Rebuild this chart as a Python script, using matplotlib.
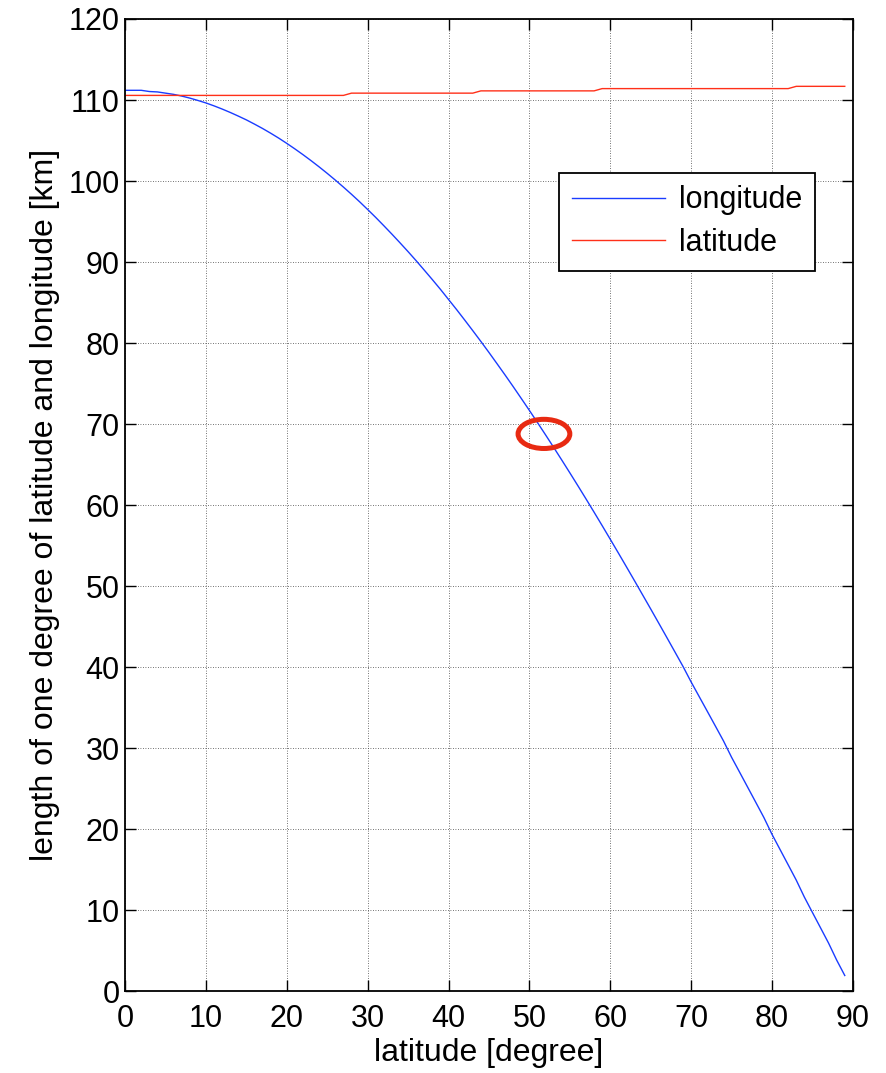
import matplotlib
matplotlib.use("Agg")
import matplotlib.pyplot as plt
from matplotlib.patches import Ellipse

# latitude in degrees (0..89)
lat_deg = list(range(0, 90))

# length of one degree of longitude [km]
lon_len = [111.20, 111.20, 111.20, 111.05, 111.00, 110.85, 110.70, 110.49, 110.24, 109.95,
           109.64, 109.28, 108.89, 108.47, 108.02, 107.55, 107.03, 106.49, 105.91, 105.30,
           104.65, 103.97, 103.26, 102.52, 101.75, 100.95, 100.12, 99.26, 98.37, 97.45,
           96.49, 95.51, 94.49, 93.45, 92.38, 91.29, 90.17, 89.01, 87.84, 86.64,
           85.39, 84.14, 82.85, 81.54, 80.21, 78.85, 77.46, 76.06, 74.63, 73.17,
           71.70, 70.20, 68.68, 67.14, 65.58, 64.00, 62.40, 60.78, 59.14, 57.48,
           55.80, 54.11, 52.40, 50.68, 48.94, 47.20, 45.44, 43.67, 41.89, 40.10,
           38.19, 36.38, 34.57, 32.75, 30.92, 28.90, 27.05, 25.19, 23.33, 21.46,
           19.39, 17.51, 15.63, 13.74, 11.65, 9.75, 7.86, 5.96, 3.87, 1.97]

# length of one degree of latitude [km]
lat_len = ([110.57] * 28 + [110.85] * 16 + [111.13] * 15 + [111.41] * 24 + [111.69] * 7)

# highlighted point (ellipse centre) in data coordinates
mark_x = [51.8]
mark_y = [68.8]

xticks = [0, 10, 20, 30, 40, 50, 60, 70, 80, 90]
yticks = [0, 10, 20, 30, 40, 50, 60, 70, 80, 90, 100, 110, 120]

plt.rcParams['font.family'] = ['Liberation Sans', 'DejaVu Sans']

fig = plt.figure(figsize=(8.87, 10.73), dpi=100)
ax = fig.add_axes([0.141, 0.0760, 0.8205, 0.9063])

ax.plot(lat_deg, lon_len, color='#1a3cff', lw=1.0, label='longitude')
ax.plot(lat_deg, lat_len, color='#ff3019', lw=1.0, label='latitude')

ell = Ellipse((mark_x[0], mark_y[0]), width=6.4, height=3.6, fill=False,
              edgecolor='#e82a12', lw=3.6, zorder=5)
ax.add_patch(ell)

ax.set_xlim(0, 90)
ax.set_ylim(0, 120)
ax.set_xticks(xticks)
ax.set_yticks(yticks)
ax.tick_params(direction='in', length=8, width=1, top=True, right=True,
               labelsize=22)
ax.tick_params(axis='x', pad=9)
ax.tick_params(axis='y', pad=4)
ax.grid(True, color='#444444', linestyle=(0, (1, 2)), lw=0.6)
for s in ax.spines.values():
    s.set_linewidth(1.3)

ax.set_xlabel('latitude [degree]', fontsize=23, labelpad=3)
ax.set_ylabel('length of one degree of latitude and longitude [km]', fontsize=23, labelpad=6)

leg = ax.legend(loc='upper left', bbox_to_anchor=(0.5964, 0.842), borderaxespad=0,
                fontsize=22, frameon=True, fancybox=False, edgecolor='black',
                framealpha=1, handlelength=3.05, handletextpad=0.45,
                borderpad=0.42, labelspacing=0.4)
leg.get_frame().set_linewidth(1.3)

fig.savefig('out.png', dpi=100)
